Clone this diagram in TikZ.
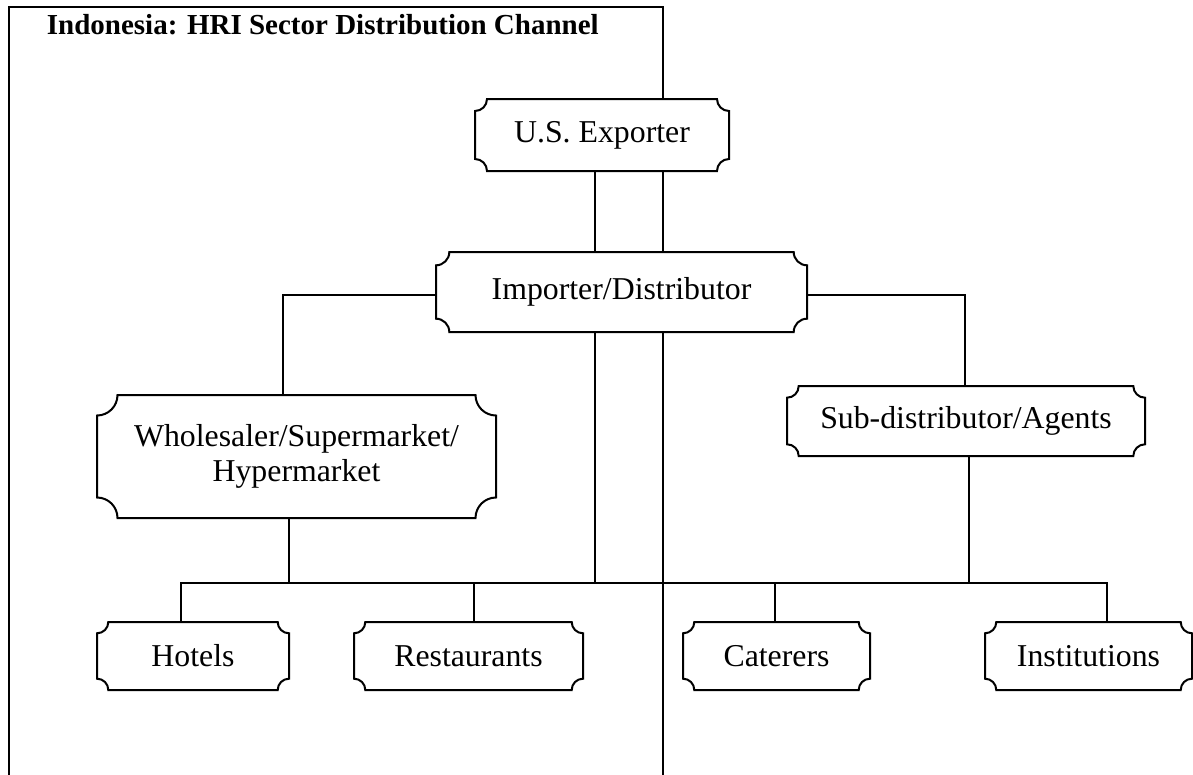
\documentclass[tikz,border=0pt]{standalone}
\usepackage{fontspec}
\setmainfont{Liberation Serif}
\pgfdeclarelayer{bg}
\pgfdeclarelayer{mid}
\pgfsetlayers{bg,mid,main}
\tikzset{
  lbl/.style={draw=none, inner sep=0pt, outer sep=0pt, align=center,
    font=\fontsize{31.8}{35}\selectfont},
  wire/.style={line width=2pt, line cap=rect},
  plaqueline/.style={line width=2pt, fill=white}
}
\newcommand\plq[2]{%
  \draw[plaqueline] ([yshift=-#2pt]#1.north west) arc[start angle=-90,end angle=0,radius=#2pt]
   -- ([xshift=-#2pt]#1.north east) arc[start angle=180,end angle=270,radius=#2pt]
   -- ([yshift=#2pt]#1.south east) arc[start angle=90,end angle=180,radius=#2pt]
   -- ([xshift=#2pt]#1.south west) arc[start angle=0,end angle=90,radius=#2pt]
   -- cycle;}
\begin{document}
\begin{tikzpicture}[x=1pt,y=-1pt]
\useasboundingbox (0,0) rectangle (1193,774);
% title
\node[anchor=base west, inner sep=0pt, font=\fontsize{29}{32}\selectfont\bfseries] (title) at (46.7,34.3) {Indonesia: HRI Sector Distribution Channel};
% boxes
\node[lbl, minimum width=254pt, minimum height=72pt] (exp) at (602,135) {U.S. Exporter};
\node[lbl, minimum width=371pt, minimum height=80pt] (imp) at (621.5,292) {Importer/Distributor};
\node[lbl, minimum width=399pt, minimum height=123pt] (whl) at (296.5,456.5) {Wholesaler/Supermarket/\\Hypermarket};
\node[lbl, minimum width=358pt, minimum height=70pt] (sub) at (966,421) {Sub-distributor/Agents};
\node[lbl, minimum width=192pt, minimum height=68pt] (hot) at (193,656) {Hotels};
\node[lbl, minimum width=229pt, minimum height=68pt] (res) at (468.5,656) {Restaurants};
\node[lbl, minimum width=187pt, minimum height=68pt] (cat) at (776.5,656) {Caterers};
\node[lbl, minimum width=207pt, minimum height=68pt] (ins) at (1088.5,656) {Institutions};
% frame corners
\coordinate (fbl) at (9,774);
\coordinate (ftl) at (9,7);
\coordinate (ftr) at (663,7);
\coordinate (fbr) at (663,774);
% bus points
\coordinate (bh) at (181,583);
\coordinate (br) at (474,583);
\coordinate (bw) at (289,583);
\coordinate (be) at (595,583);
\coordinate (bs) at (969,583);
\coordinate (bc) at (775,583);
\coordinate (bi) at (1107,583);
\coordinate (lw) at (283,295);
\coordinate (rs) at (965,295);
\begin{pgfonlayer}{bg}
\draw[wire] (fbl) -- (ftl) -- (ftr) -- (fbr);
\draw[wire] (exp.south -| be) -- (be);
\draw[wire] (imp.west |- lw) -- (lw) -- (whl.north -| lw);
\draw[wire] (imp.east |- rs) -- (rs) -- (sub.north -| rs);
\draw[wire] (whl.south -| bw) -- (bw);
\draw[wire] (sub.south -| bs) -- (bs);
\draw[wire] (bh) -- (bi);
\draw[wire] (bh) -- (hot.north -| bh);
\draw[wire] (br) -- (res.north -| br);
\draw[wire] (bc) -- (cat.north -| bc);
\draw[wire] (bi) -- (ins.north -| bi);
\end{pgfonlayer}
\begin{pgfonlayer}{mid}
\plq{exp}{12}
\plq{imp}{13.3}
\plq{whl}{20.5}
\plq{sub}{11.7}
\plq{hot}{11.3}
\plq{res}{11.3}
\plq{cat}{11.3}
\plq{ins}{11.3}
\end{pgfonlayer}
\end{tikzpicture}
\end{document}
